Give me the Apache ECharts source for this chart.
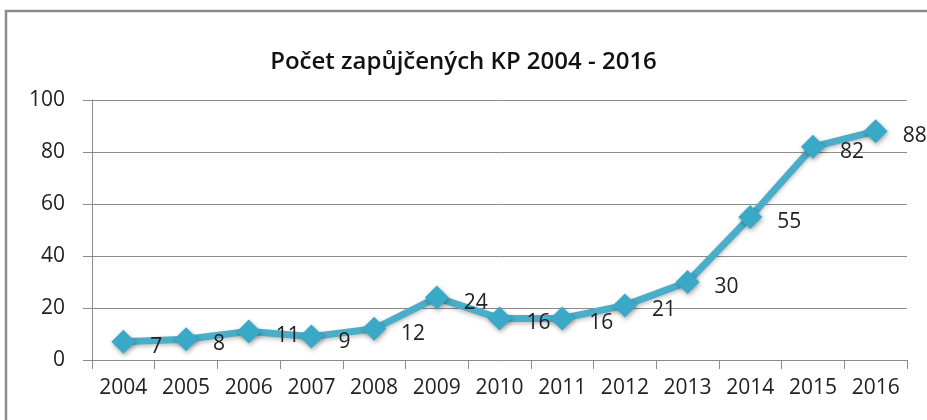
<!DOCTYPE html>
<html>
<head>
<meta charset="utf-8">
<script src="https://cdn.jsdelivr.net/npm/echarts@6/dist/echarts.min.js"></script>
<style>
  html, body { margin: 0; padding: 0; background: #fff; }
  #chart { width: 927px; height: 420px; }
</style>
</head>
<body>
<div id="chart"></div>
<script>
// data
var years = ['2004', '2005', '2006', '2007', '2008', '2009', '2010', '2011', '2012', '2013', '2014', '2015', '2016'];
var counts = [7, 8, 11, 9, 12, 24, 16, 16, 21, 30, 55, 82, 88];
var yTicks = [0, 20, 40, 60, 80, 100];

var myChart = echarts.init(document.getElementById('chart'));

myChart.setOption({
    backgroundColor: '#fff',
    textStyle: { fontFamily: 'Open Sans' },
    // outer chart frame
    graphic: [{
        type: 'rect',
        shape: { x: 6, y: 11, width: 940, height: 430 },
        style: { fill: 'none', stroke: '#8c8c8c', lineWidth: 2.5 },
        silent: true
    }],
    title: {
        text: 'Počet zapůjčených KP 2004 - 2016',
        left: 'center',
        top: 45,
        textStyle: { fontSize: 24, fontWeight: 600, color: '#111', fontFamily: 'Open Sans' }
    },
    grid: { left: 92, right: 20, top: 100, bottom: 60 },
    xAxis: {
        type: 'category',
        data: years,
        boundaryGap: true,
        axisLine: { lineStyle: { color: '#8c8c8c', width: 1 } },
        axisTick: { show: true, length: 9, alignWithLabel: false, lineStyle: { color: '#8c8c8c' } },
        axisLabel: { fontSize: 21, color: '#222', margin: 18, interval: 0 }
    },
    yAxis: {
        type: 'value',
        min: yTicks[0],
        max: yTicks[yTicks.length - 1],
        interval: 20,
        axisLine: { show: true, lineStyle: { color: '#8c8c8c', width: 1 } },
        axisTick: { show: true, length: 9, lineStyle: { color: '#8c8c8c' } },
        axisLabel: { fontSize: 21, color: '#222', margin: 27 },
        splitLine: { lineStyle: { color: '#8c8c8c', width: 1 } }
    },
    series: [{
        name: 'KP',
        type: 'line',
        data: counts,
        symbol: 'diamond',
        symbolSize: 24,
        itemStyle: {
            color: '#3aa9c8',
            shadowColor: 'rgba(0,0,0,0.35)',
            shadowBlur: 5,
            shadowOffsetX: 1,
            shadowOffsetY: 2
        },
        lineStyle: {
            color: '#4aaec8',
            width: 7,
            shadowColor: 'rgba(0,0,0,0.25)',
            shadowBlur: 4,
            shadowOffsetY: 2
        },
        label: {
            show: true,
            position: 'right',
            distance: 15,
            offset: [0, 5],
            fontSize: 21,
            color: '#222'
        },
        animation: false
    }]
});
</script>
</body>
</html>
